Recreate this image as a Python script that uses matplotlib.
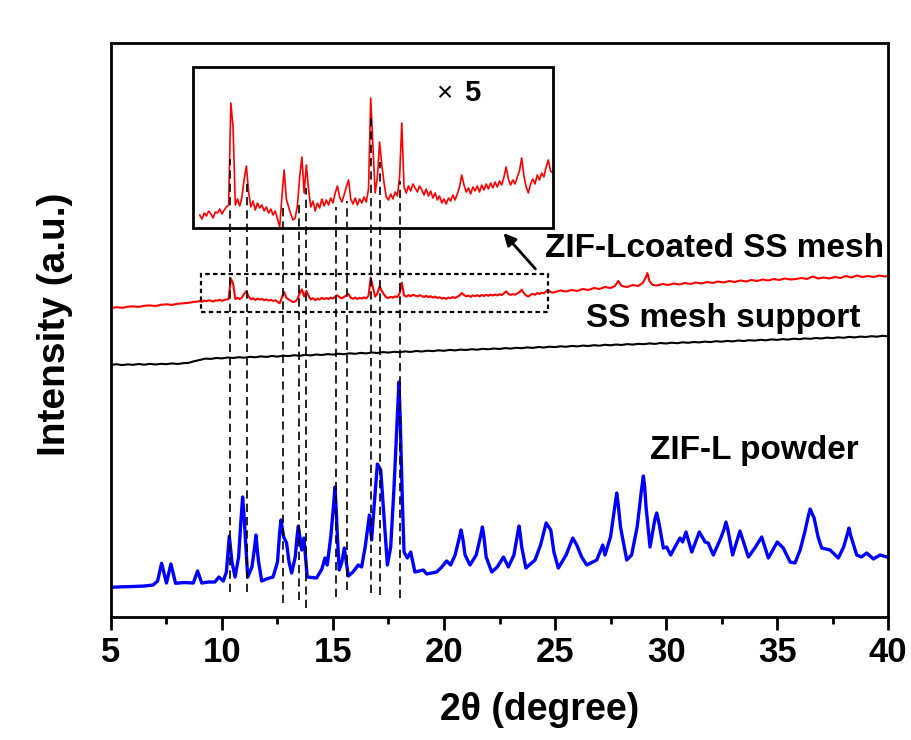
import numpy as np
import matplotlib
matplotlib.use('Agg')
import matplotlib.pyplot as plt
from matplotlib.patches import Rectangle
from matplotlib.ticker import MultipleLocator

plt.rcParams['font.family'] = ['Liberation Sans', 'DejaVu Sans']
plt.rcParams['font.weight'] = 'bold'

# SS mesh support (black), 0.25 deg steps
support_2theta = np.arange(5.0, 40.001, 0.25)
support_int = [
    252.0, 252.8, 251.9, 252.6, 252.2, 253.0, 252.3, 253.1, 252.5, 253.2,
    252.8, 253.6, 253.0, 253.8, 254.2, 255.8, 257.0, 258.4, 258.1, 259.0,
    258.6, 259.5, 259.0, 259.8, 259.3, 260.2, 259.7, 260.6, 260.1, 261.0,
    260.4, 261.3, 260.9, 261.8, 261.2, 262.1, 261.6, 262.5, 262.0, 262.9,
    262.4, 263.3, 262.8, 263.7, 263.2, 264.1, 263.6, 264.5, 264.0, 264.9,
    264.4, 265.2, 264.8, 265.6, 265.1, 266.0, 265.5, 266.3, 265.9, 266.7,
    266.2, 267.1, 266.6, 267.4, 267.0, 267.8, 267.3, 268.2, 267.7, 268.5,
    268.0, 268.9, 268.4, 269.2, 268.8, 269.6, 269.1, 270.0, 269.5, 270.3,
    269.9, 270.7, 270.2, 271.1, 270.6, 271.4, 271.0, 271.8, 271.3, 272.2,
    271.7, 272.5, 272.0, 272.9, 272.4, 273.2, 272.8, 273.6, 273.1, 274.0,
    273.5, 274.3, 273.8, 274.7, 274.2, 275.0, 274.6, 275.4, 274.9, 275.8,
    275.3, 276.1, 275.6, 276.5, 276.0, 276.8, 276.4, 277.2, 276.7, 277.6,
    277.1, 277.9, 277.4, 278.3, 277.8, 278.6, 278.2, 279.0, 278.5, 279.4,
    278.9, 279.7, 279.2, 280.1, 279.6, 280.4, 280.0, 280.8, 280.3, 281.2,
    280.7]

# ZIF-L powder (blue)
powder_2theta = [
    5.0, 5.5, 6.0, 6.5, 6.9, 7.1, 7.28, 7.5, 7.7, 7.91,
    8.3, 8.71, 8.9, 9.09, 9.4, 9.68, 9.86, 10.06, 10.2, 10.27,
    10.33, 10.39, 10.45, 10.59, 10.75, 10.85, 10.93, 11.0, 11.05, 11.16,
    11.35, 11.46, 11.53, 11.6, 11.65, 11.79, 12.0, 12.3, 12.5, 12.6,
    12.66, 12.72, 12.78, 12.91, 13.02, 13.14, 13.3, 13.38, 13.44, 13.59,
    13.69, 13.84, 14.26, 14.5, 14.64, 14.74, 14.9, 15.02, 15.09, 15.15,
    15.2, 15.28, 15.4, 15.51, 15.69, 15.9, 16.14, 16.29, 16.45, 16.64,
    16.74, 16.85, 17.0, 17.15, 17.3, 17.45, 17.6, 17.75, 17.9, 17.97,
    18.03, 18.12, 18.2, 18.35, 18.5, 18.69, 19.07, 19.22, 19.67, 19.9,
    20.12, 20.3, 20.5, 20.7, 20.77, 20.85, 20.95, 21.17, 21.45, 21.66,
    21.73, 21.8, 21.9, 22.15, 22.4, 22.68, 22.9, 23.15, 23.32, 23.38,
    23.44, 23.5, 23.69, 24.1, 24.35, 24.6, 24.81, 24.95, 25.15, 25.5,
    25.8, 25.98, 26.2, 26.43, 26.88, 27.15, 27.25, 27.5, 27.7, 27.78,
    27.85, 27.95, 28.23, 28.45, 28.7, 28.9, 28.98, 29.04, 29.1, 29.28,
    29.5, 29.58, 29.7, 29.88, 30.03, 30.21, 30.45, 30.63, 30.75, 30.9,
    31.16, 31.5, 31.76, 31.9, 32.13, 32.45, 32.62, 32.7, 32.78, 33.0,
    33.33, 33.71, 34.0, 34.31, 34.61, 35.01, 35.28, 35.59, 35.81, 36.04,
    36.25, 36.4, 36.49, 36.67, 36.85, 37.01, 37.39, 37.76, 38.0, 38.17,
    38.24, 38.31, 38.59, 38.8, 39.04, 39.34, 39.64, 39.94, 40.0]
powder_int = [
    29.7, 30.2, 30.5, 31.0, 32, 36, 53.7, 34, 53, 33.7,
    34.5, 34, 46, 34, 35, 35, 40, 36, 45, 65,
    81, 68, 55, 40, 60, 95, 120, 100, 80, 40,
    50, 68, 82, 65, 55, 36, 38, 40, 55, 85,
    97, 88, 80, 74, 55, 44, 60, 80, 91, 67,
    79, 40, 39, 48, 59, 52, 80, 110, 130, 105,
    80, 47, 55, 69, 41, 45, 52, 50, 70, 102,
    77, 110, 153, 147, 100, 52, 70, 130, 200, 235,
    197, 120, 65, 59, 65, 45, 47, 43, 45, 50,
    56, 52, 62, 80, 87, 78, 62, 52, 62, 82,
    90, 80, 60, 45, 50, 60, 50, 62, 84, 91,
    82, 70, 49, 57, 72, 94, 87, 65, 49, 62,
    79, 72, 60, 52, 57, 72, 62, 80, 112, 124,
    112, 90, 57, 62, 90, 128, 141, 130, 110, 70,
    98, 104, 92, 69, 70, 62, 72, 79, 75, 85,
    65, 85, 75, 74, 62, 78, 88, 95, 88, 62,
    86, 60, 69, 80, 59, 75, 69, 55, 54, 67,
    85, 100, 108, 99, 80, 69, 67, 59, 70, 83,
    89, 82, 62, 60, 64, 58, 62, 60, 60]

# ZIF-L coated SS mesh (red): low-angle part, 9-25 deg window, high-angle part
coated_lo_2theta = [5.0, 5.25, 5.5, 5.75, 6.0, 6.25, 6.5, 6.75, 7.0, 7.25,
                    7.5, 7.75, 8.0, 8.25, 8.5, 8.75, 8.9]
coated_lo_int = [309, 309.8, 309.2, 310.3, 310.6, 310.1, 311.2, 311.6, 311.0,
                 312.2, 312.7, 312.1, 313.2, 313.7, 314.2, 315.2, 315.4]

# signal inside the 9-25 deg window, as shown in the x5 inset
window_2theta = np.round(np.arange(9.0, 24.95, 0.1), 1)
window_int = [
    2, -2, 4, 1, 6, 3, -1, 5, 4, 8,
    3, 7, 10, 12, 114, 90, 12, 18, 11, 20,
    38, 51, 25, 10, 16, 7, 14, 9, 12, 6,
    10, 4, 8, 2, 6, -2, -10, 20, 47, 18,
    10, 3, -3, -1, 12, 40, 60, 24, 52, 28,
    10, 16, 6, 14, 9, 18, 11, 17, 12, 19,
    14, 24, 31, 20, 15, 22, 30, 37, 18, 13,
    19, 12, 18, 14, 20, 15, 28, 119, 70, 24,
    40, 75, 52, 34, 20, 17, 23, 18, 25, 21,
    40, 94, 30, 24, 31, 26, 33, 29, 25, 31,
    27, 22, 28, 21, 26, 19, 24, 17, 21, 14,
    18, 13, 19, 16, 22, 17, 23, 30, 42, 32,
    25, 29, 23, 30, 26, 31, 25, 32, 27, 33,
    28, 34, 29, 35, 30, 36, 32, 40, 50, 38,
    32, 37, 33, 40, 46, 59, 41, 30, 24, 33,
    38, 33, 42, 37, 44, 40, 50, 57, 46, 44]

coated_hi_2theta = [
    25.0, 25.25, 25.5, 25.75, 26.0, 26.25, 26.5, 26.75, 27.0, 27.25,
    27.5, 27.7, 27.85, 28.0, 28.25, 28.5, 28.75, 28.95, 29.1, 29.16,
    29.25, 29.4, 29.6, 29.85, 30.1, 30.35, 30.6, 30.85, 31.1, 31.35,
    31.6, 31.85, 32.1, 32.35, 32.6, 32.85, 33.1, 33.35, 33.6, 33.85,
    34.1, 34.35, 34.6, 34.85, 35.1, 35.35, 35.6, 35.85, 36.1, 36.35,
    36.6, 36.85, 37.1, 37.35, 37.6, 37.85, 38.1, 38.35, 38.6, 38.85,
    39.1, 39.35, 39.6, 39.85, 40.0]
coated_hi_int = [
    325, 326.5, 325.5, 327, 326, 328, 327, 329, 328, 330,
    329, 331, 336, 331, 330, 332, 331, 334, 340, 344,
    336, 332, 331.5, 333, 332, 333.5, 332.5, 334, 333, 334.5,
    333.5, 335, 334, 335.5, 334.5, 336, 335, 336.5, 335.5, 337,
    336, 337.5, 336.5, 338, 337, 338.5, 337.5, 338, 339, 338,
    340.5, 338.5, 339.5, 338.5, 340, 339, 341, 339.5, 341.5, 340,
    341, 340, 341.5, 340.5, 341]

# ZIF-L reflections marked with drop lines
peak_2theta = [10.36, 11.11, 12.73, 13.47, 13.77, 15.12, 15.62, 16.70,
               17.12, 18.02]

MAG = 5
RED_LEVEL = 315.6     # where the window signal sits on the red trace
INSET_LEVEL = 400     # where the magnified copy sits
drop_ends = [25, 25, 14, 17, 9, 20, 27, 24, 22, 19]

fig = plt.figure(figsize=(9.11, 7.4), dpi=100)
ax = fig.add_axes([0.1218, 0.1662, 0.853, 0.7757])

window_int = np.array(window_int, dtype=float)
red_x = np.concatenate([coated_lo_2theta, window_2theta, coated_hi_2theta])
red_y = np.concatenate([coated_lo_int, RED_LEVEL + window_int / MAG,
                        coated_hi_int])

ax.plot(support_2theta, support_int, color='black', lw=1.5)
ax.plot(red_x, red_y, color='#ff0000', lw=1.5)
ax.plot(powder_2theta, powder_int, color='#0000ff', lw=2.4)

# x5 inset of the 9-25 deg window
inset_y = INSET_LEVEL + window_int
ax.plot(window_2theta, inset_y, color='#ff0000', lw=1.2)
ax.add_patch(Rectangle((8.68, 389), 24.9 - 8.68, 549.7 - 389, fill=False,
                       ec='black', lw=2, zorder=4))
ax.add_patch(Rectangle((9.05, 305), 24.7 - 9.05, 343 - 305, fill=False,
                       ec='black', lw=1.6, ls=(0, (2, 1.5)), zorder=4))

for x, end in zip(peak_2theta, drop_ends):
  top = np.interp(x, window_2theta, inset_y) - 15
  ax.plot([x, x], [end, top], color='black', lw=1.2, ls=(0, (5, 3)),
          zorder=3)

ax.annotate('', xy=(22.6, 386), xytext=(24.2, 346),
            arrowprops=dict(arrowstyle='-|>', color='black', lw=2,
                            mutation_scale=18))

ax.text(20.0, 523, '\u00d7', fontsize=20, fontweight='normal',
        ha='center', va='center')
ax.text(21.25, 524, '5', fontsize=21, fontweight='bold',
        ha='center', va='center')
ax.text(32.2, 369, 'ZIF-Lcoated SS mesh', fontsize=24, fontweight='bold',
        ha='center', va='center')
ax.text(32.6, 299, 'SS mesh support', fontsize=24, fontweight='bold',
        ha='center', va='center')
ax.text(34.0, 167, 'ZIF-L powder', fontsize=24, fontweight='bold',
        ha='center', va='center')

ax.set_xlim(5, 40)
ax.set_ylim(0, 574)
ax.xaxis.set_major_locator(MultipleLocator(5))
ax.xaxis.set_minor_locator(MultipleLocator(2.5))
ax.set_yticks([])
ax.tick_params(axis='x', which='major', direction='out', length=9, width=2,
               labelsize=25, pad=5, top=False)
ax.tick_params(axis='x', which='minor', direction='out', length=5, width=2,
               top=False)
for lab in ax.get_xticklabels():
  lab.set_fontweight('bold')
for spine in ax.spines.values():
  spine.set_linewidth(2)

ax.set_xlabel('2\u03b8 (degree)', fontsize=27, fontweight='bold')
ax.xaxis.set_label_coords(0.552, -0.162)
ax.xaxis.label.set_va('center')
ax.set_ylabel('Intensity (a.u.)', fontsize=28, fontweight='bold')
ax.yaxis.set_label_coords(-0.072, 0.51)
ax.yaxis.label.set_va('center')

fig.savefig('out.png', dpi=100)
